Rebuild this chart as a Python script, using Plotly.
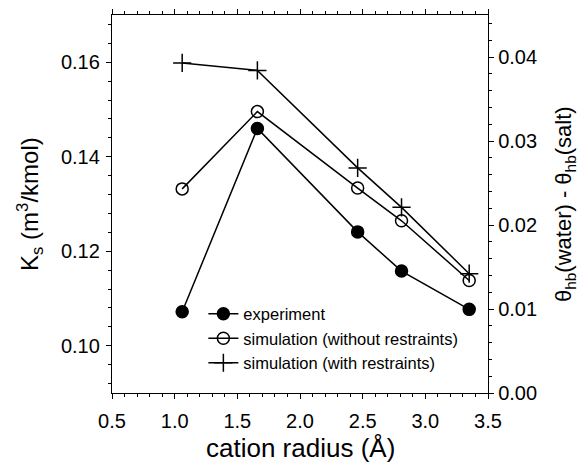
import plotly.graph_objects as go

# cation radius (Å)
radius = [1.06, 1.66, 2.46, 2.81, 3.35]

# salting coefficient K_s (m^3/kmol), left axis
ks_experiment = [0.1072, 0.1460, 0.1241, 0.1158, 0.1077]

# theta_hb(water) - theta_hb(salt), right axis
dtheta_free = [0.0243, 0.0335, 0.0244, 0.0205, 0.0134]
dtheta_restrained = [0.0393, 0.0384, 0.0268, 0.0221, 0.0142]

FONT = "Liberation Sans, Arial, sans-serif"
LINE = dict(color="black", width=1.5)

fig = go.Figure()
fig.add_trace(go.Scatter(
    x=radius, y=ks_experiment, name="experiment", mode="lines+markers",
    line=LINE, marker=dict(symbol="circle", size=12, color="black",
                           line=dict(color="black", width=1.5)),
    yaxis="y"))
fig.add_trace(go.Scatter(
    x=radius, y=dtheta_free, name="simulation (without restraints)",
    mode="lines+markers", line=LINE,
    marker=dict(symbol="circle-open", size=12, color="black",
                line=dict(color="black", width=1.5)),
    yaxis="y2"))
fig.add_trace(go.Scatter(
    x=radius, y=dtheta_restrained, name="simulation (with restraints)",
    mode="lines+markers", line=LINE,
    marker=dict(symbol="cross-thin", size=13, color="black",
                line=dict(color="black", width=1.5)),
    yaxis="y2"))

axis_common = dict(
    showline=True, linecolor="black", linewidth=1.3, showgrid=False,
    zeroline=False, ticks="outside", ticklen=5, tickwidth=1.2,
    tickcolor="black", tickfont=dict(family=FONT, size=20, color="black"),
    automargin=False,
)

fig.update_layout(
    width=584, height=464,
    margin=dict(l=112, r=96, t=15, b=71),
    paper_bgcolor="white", plot_bgcolor="white",
    font=dict(family=FONT, color="black"),
    showlegend=True,
    legend=dict(x=0.243, y=0.255, xanchor="left", yanchor="top",
                bgcolor="rgba(0,0,0,0)", font=dict(family=FONT, size=16.5),
                tracegroupgap=0, itemwidth=30),
    xaxis=dict(
        range=[0.5, 3.5], dtick=0.5, tick0=0.5, tickformat=".1f",
        mirror="ticks", ticklabelstandoff=5,
        minor=dict(dtick=0.1, ticklen=3, ticks="outside", tickcolor="black"),
        **axis_common),
    yaxis=dict(
        range=[0.09, 0.17], dtick=0.02, tick0=0.10, tickformat=".2f",
        ticklabelstandoff=2,
        minor=dict(dtick=0.004, ticklen=3, ticks="outside", tickcolor="black"),
        **axis_common),
    yaxis2=dict(
        range=[0, 0.045], dtick=0.01, tick0=0, tickformat=".2f",
        overlaying="y", side="right",
        minor=dict(dtick=0.002, ticklen=3, ticks="outside", tickcolor="black"),
        **axis_common),
)

# Axis titles placed relative to the plot frame
fig.add_annotation(text="cation radius (Å)", xref="paper", yref="paper",
                   x=0.5, y=0, yshift=-55, showarrow=False,
                   xanchor="center", yanchor="middle",
                   font=dict(family=FONT, size=26, color="black"))
fig.add_annotation(text="K<sub>s</sub> (m<sup>3</sup>/kmol)",
                   xref="paper", yref="paper", x=0, y=0.5, xshift=-82,
                   textangle=-90, showarrow=False,
                   xanchor="center", yanchor="middle",
                   font=dict(family=FONT, size=24, color="black"))
fig.add_annotation(text="θ<sub>hb</sub>(water) - θ<sub>hb</sub>(salt)",
                   xref="paper", yref="paper", x=1, y=0.5, xshift=77,
                   textangle=-90, showarrow=False,
                   xanchor="center", yanchor="middle",
                   font=dict(family=FONT, size=22, color="black"))

fig.write_html("out.html")
